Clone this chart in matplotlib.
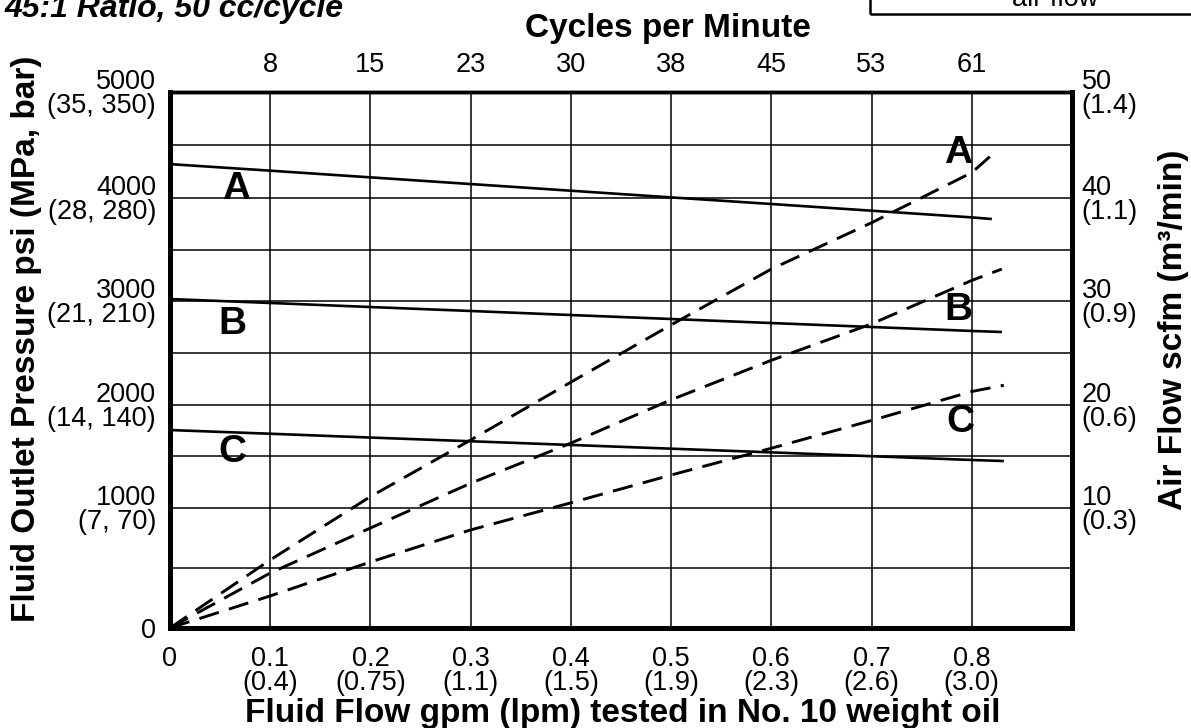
import numpy as np
import matplotlib
matplotlib.use("Agg")
import matplotlib.pyplot as plt
from matplotlib.patches import Rectangle

plt.rcParams['font.family'] = ['Liberation Sans', 'DejaVu Sans']

# fluid outlet pressure (psi) vs fluid flow (gpm), solid curves
flow_psi_a = [0.0, 0.1, 0.2, 0.3, 0.4, 0.5, 0.6, 0.7, 0.8, 0.82]
psi_a = [4320, 4258, 4195, 4132, 4069, 4006, 3942, 3877, 3812, 3796]
flow_psi_b = [0.0, 0.1, 0.2, 0.3, 0.4, 0.5, 0.6, 0.7, 0.8, 0.83]
psi_b = [3019, 2981, 2942, 2904, 2865, 2827, 2788, 2750, 2712, 2702]
flow_psi_c = [0.0, 0.1, 0.2, 0.3, 0.4, 0.5, 0.6, 0.7, 0.8, 0.832]
psi_c = [1757, 1721, 1684, 1648, 1612, 1576, 1540, 1503, 1466, 1456]

# air flow (scfm) vs fluid flow (gpm), dashed curves
flow_air_a = [0.0, 0.1, 0.2, 0.3, 0.4, 0.5, 0.6, 0.7, 0.8, 0.818]
air_a = [0, 5.67, 11.1, 16.6, 22.2, 27.7, 33.1, 37.6, 42.4, 43.9]
flow_air_b = [0.0, 0.1, 0.2, 0.3, 0.4, 0.5, 0.6, 0.7, 0.8, 0.83]
air_b = [0, 4.58, 8.33, 12.4, 16.3, 20.5, 24.3, 27.8, 32.0, 33.1]
flow_air_c = [0.0, 0.1, 0.2, 0.3, 0.4, 0.5, 0.6, 0.7, 0.8, 0.832]
air_c = [0, 2.67, 5.5, 8.17, 10.5, 13.2, 15.8, 18.5, 21.3, 21.9]

flow_ticks = [0, 0.1, 0.2, 0.3, 0.4, 0.5, 0.6, 0.7, 0.8]
flow_labels = ["0", "0.1\n(0.4)", "0.2\n(0.75)", "0.3\n(1.1)", "0.4\n(1.5)",
               "0.5\n(1.9)", "0.6\n(2.3)", "0.7\n(2.6)", "0.8\n(3.0)"]
cycle_ticks = [0.1, 0.2, 0.3, 0.4, 0.5, 0.6, 0.7, 0.8]
cycle_labels = ["8", "15", "23", "30", "38", "45", "53", "61"]
psi_ticks = [0, 1000, 2000, 3000, 4000, 5000]
psi_labels = ["0", "1000\n(7, 70)", "2000\n(14, 140)", "3000\n(21, 210)",
              "4000\n(28, 280)", "5000\n(35, 350)"]
psi_minor = [500, 1500, 2500, 3500, 4500]
scfm_ticks = [0, 10, 20, 30, 40, 50]
scfm_labels = ["", "10\n(0.3)", "20\n(0.6)", "30\n(0.9)", "40\n(1.1)", "50\n(1.4)"]

# the printed grid is not evenly spaced, so map the major ticks piecewise
grid_frac = [0, 0.2239, 0.4160, 0.6101, 0.8022, 1.0]


def piecewise(ticks):
    t = np.asarray(ticks, float)
    f = np.asarray(grid_frac)
    tt = np.r_[t[0] - 100 * (t[1] - t[0]), t, t[-1] + 100 * (t[-1] - t[-2])]
    ff = np.r_[f[0] - 100 * (f[1] - f[0]), f, f[-1] + 100 * (f[-1] - f[-2])]
    return (lambda v: np.interp(v, tt, ff)), (lambda v: np.interp(v, ff, tt))


fig = plt.figure(figsize=(11.91, 7.28), dpi=100)
ax = fig.add_axes([0.1427, 0.1374, 0.7574, 0.7362])
ax.set_yscale('function', functions=piecewise(psi_ticks))
ax.set_xlim(0, 0.9)
ax.set_ylim(0, 5000)

ax.set_xticks(flow_ticks, labels=flow_labels)
ax.set_yticks(psi_ticks, labels=psi_labels)
ax.set_yticks(psi_minor, minor=True)
ax.grid(True, which='both', color='black', lw=1.1)
ax.set_axisbelow(True)
ax.tick_params(which='both', length=0, labelsize=19.5)
ax.tick_params(axis='x', pad=13)
ax.tick_params(axis='y', pad=10)
for t in ax.get_yticklabels():
    t.set_multialignment('right')
    t.set_linespacing(0.88)
for t in ax.get_xticklabels():
    t.set_linespacing(0.92)

for fx, fy in [(flow_psi_a, psi_a), (flow_psi_b, psi_b), (flow_psi_c, psi_c)]:
    ax.plot(fx, fy, color='black', lw=1.9, solid_capstyle='butt')

ax2 = ax.twinx()
ax2.set_yscale('function', functions=piecewise(scfm_ticks))
ax2.set_ylim(0, 50)
ax2.set_yticks(scfm_ticks, labels=scfm_labels)
ax2.tick_params(length=0, labelsize=19.5, pad=7)
for t in ax2.get_yticklabels():
    t.set_multialignment('left')
    t.set_linespacing(0.88)

for fx, fy in [(flow_air_a, air_a), (flow_air_b, air_b), (flow_air_c, air_c)]:
    ax2.plot(fx, fy, color='black', lw=2.1, dashes=(7, 3.6))

top = ax.secondary_xaxis('top')
top.set_xticks(cycle_ticks, labels=cycle_labels)
top.tick_params(length=0, labelsize=19.5, pad=10)
for s in top.spines.values():
    s.set_visible(False)

for a in (ax, ax2):
    for side in ('left', 'bottom', 'right'):
        a.spines[side].set_linewidth(3.6)
    a.spines['top'].set_linewidth(2.5)

# curve letters
letter_pos = [("A", 0.073, 0.800), ("B", 0.069, 0.549), ("C", 0.069, 0.310),
              ("A", 0.874, 0.868), ("B", 0.874, 0.575), ("C", 0.876, 0.366)]
for s, x, y in letter_pos:
    ax.text(x, y, s, transform=ax.transAxes, ha='center', va='baseline',
            fontsize=28, fontweight='bold')

fig.text(0.5609, 0.9492, "Cycles per Minute", ha='center', va='baseline',
         fontsize=24, fontweight='bold')
fig.text(0.523, 0.0082, "Fluid Flow gpm (lpm) tested in No. 10 weight oil",
         ha='center', va='baseline', fontsize=24, fontweight='bold')
fig.text(0.0294, 0.5343, "Fluid Outlet Pressure psi (MPa, bar)", rotation=90,
         rotation_mode='anchor', ha='center', va='baseline',
         fontsize=24, fontweight='bold')
fig.text(0.9924, 0.5467, "Air Flow scfm (m³/min)", rotation=90,
         rotation_mode='anchor', ha='center', va='baseline',
         fontsize=24, fontweight='bold')

fig.text(0.004, 0.9766, "45:1 Ratio, 50 cc/cycle", ha='left', va='baseline',
         fontsize=23, fontweight='bold', style='italic')

# legend box cut off at the top right
fig.add_artist(Rectangle((0.7305, 0.9808), 0.4, 0.2, transform=fig.transFigure,
                         fill=False, ec='black', lw=1.8, clip_on=False))
fig.text(0.886, 0.9918, "air flow", ha='center', va='baseline', fontsize=19.5)

fig.savefig("out.png", dpi=100)
